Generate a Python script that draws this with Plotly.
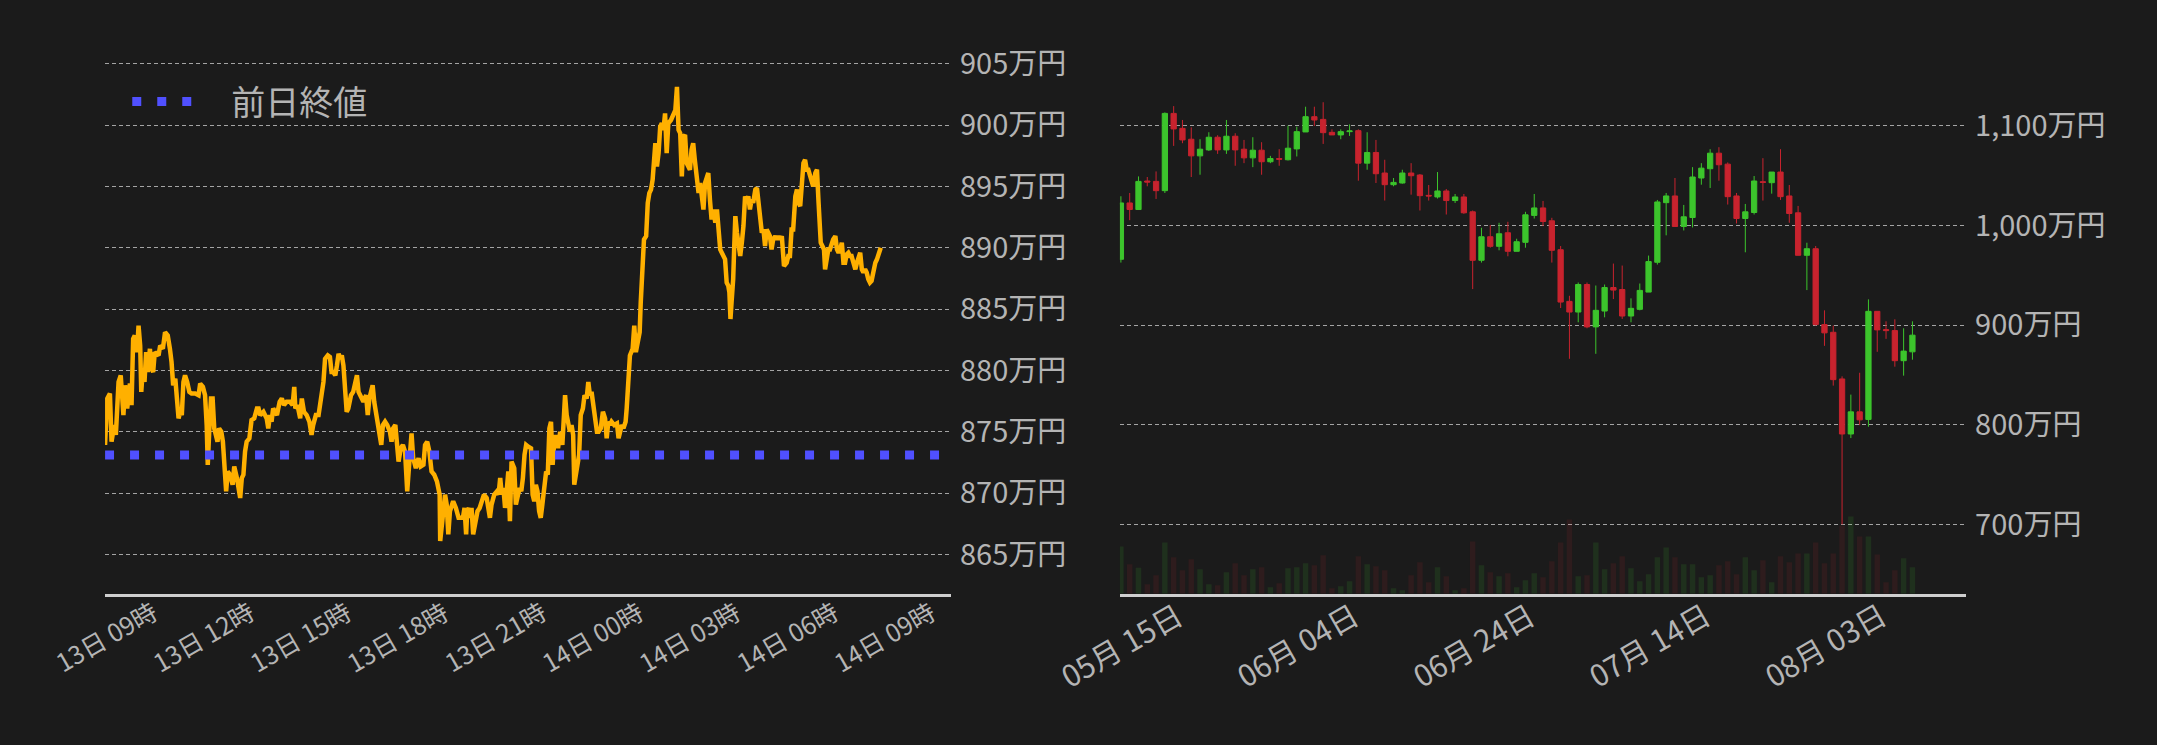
import pandas as pd
import plotly.graph_objects as go

# --- 24h chart: minutes after 13日 09:00, price in 万円 ---
elapsed_min = [
    0, 4, 9, 12, 17, 20, 25, 29, 34, 37, 41, 46, 49, 52, 55, 59, 62, 65, 67, 70,
    73, 76, 79, 83, 86, 89, 92, 99, 102, 107, 111, 116, 120, 123, 126, 130, 133, 136, 139, 142,
    145, 148, 152, 156, 160, 167, 173, 176, 181, 185, 188, 190, 193, 196, 199, 202, 205, 208, 211, 215,
    218, 221, 224, 227, 231, 236, 239, 244, 247, 250, 253, 256, 259, 262, 267, 271, 276, 281, 284, 287,
    293, 296, 299, 302, 305, 308, 311, 318, 323, 327, 331, 336, 342, 347, 350, 352, 356, 361, 364, 368,
    373, 378, 382, 385, 390, 395, 398, 401, 404, 407, 412, 416, 419, 422, 426, 429, 432, 435, 438, 441,
    444, 447, 450, 455, 459, 463, 466, 469, 472, 475, 478, 483, 486, 489, 492, 495, 498, 501, 504, 508,
    511, 514, 518, 522, 527, 530, 533, 537, 540, 543, 547, 551, 555, 559, 563, 567, 570, 575, 580, 584,
    589, 592, 596, 600, 604, 609, 614, 619, 620, 623, 626, 629, 632, 635, 638, 641, 644, 649, 654, 658,
    662, 665, 668, 670, 673, 675, 678, 681, 685, 689, 693, 697, 701, 706, 709, 712, 715, 720, 725, 728,
    731, 734, 737, 740, 743, 746, 749, 752, 757, 760, 764, 767, 770, 773, 776, 779, 783, 788, 791, 794,
    797, 800, 803, 806, 809, 812, 816, 819, 822, 825, 828, 831, 834, 838, 842, 846, 849, 851, 854, 857,
    860, 863, 866, 868, 871, 874, 877, 880, 884, 887, 891, 894, 897, 900, 903, 907, 910, 913, 917, 921,
    925, 928, 931, 934, 937, 942, 947, 950, 953, 956, 959, 963, 965, 968, 971, 976, 979, 982, 985, 989,
    991, 994, 997, 1001, 1004, 1007, 1010, 1013, 1016, 1018, 1021, 1024, 1027, 1030, 1033, 1036, 1039, 1042, 1047, 1050,
    1055, 1058, 1061, 1064, 1067, 1070, 1073, 1076, 1082, 1085, 1088, 1091, 1095, 1098, 1101, 1104, 1107, 1110, 1113, 1116,
    1119, 1122, 1125, 1129, 1132, 1135, 1138, 1141, 1144, 1147, 1150, 1153, 1155, 1157, 1159, 1162, 1164, 1166, 1169, 1172,
    1175, 1178, 1181, 1184, 1187, 1190, 1193, 1196, 1199, 1203, 1206, 1209, 1212, 1215, 1218, 1221, 1224, 1227, 1230, 1233,
    1236, 1240, 1243, 1246, 1249, 1252, 1254, 1256, 1261, 1264, 1267, 1270, 1273, 1277, 1280, 1283, 1286, 1289, 1292, 1295,
    1298, 1301, 1304, 1307, 1310, 1314, 1317, 1320, 1322, 1324, 1327, 1330, 1332, 1335, 1338, 1341, 1344, 1347, 1351, 1354,
    1357, 1360, 1363, 1366, 1369, 1372, 1375, 1378, 1381, 1384, 1388, 1391, 1394, 1397, 1400, 1403, 1406, 1409, 1412, 1415,
    1418, 1421, 1425, 1428, 1431, 1435,
]
price = [
    873.94, 877.72, 878.13, 874.21, 875.56, 874.75, 879.07, 879.61, 876.37, 878.80, 876.91, 878.94, 877.18, 882.58, 882.85, 881.50, 883.66, 882.04, 878.26, 880.15,
    879.07, 881.50, 879.88, 881.77, 880.15, 879.88, 881.50, 881.23, 882.04, 881.77, 883.12, 882.85, 881.77, 880.69, 878.80, 879.34, 877.72, 876.10, 876.64, 876.37,
    879.07, 879.61, 879.07, 878.26, 878.13, 878.13, 877.99, 878.94, 878.67, 877.99, 875.56, 872.32, 875.29, 877.72, 877.72, 875.29, 874.75, 874.21, 875.29, 875.02,
    874.21, 872.59, 870.16, 871.78, 871.51, 870.70, 872.18, 871.24, 870.43, 869.62, 871.24, 871.51, 873.40, 874.21, 874.48, 875.96, 876.10, 876.91, 876.91, 876.37,
    876.64, 876.37, 876.10, 875.29, 876.37, 875.83, 876.91, 876.37, 877.45, 877.72, 877.18, 877.45, 877.45, 877.18, 878.67, 876.91, 877.18, 876.10, 877.72, 876.64,
    876.37, 875.83, 874.75, 875.56, 876.37, 876.37, 877.45, 877.99, 879.07, 880.96, 881.23, 881.10, 879.88, 879.88, 879.61, 880.42, 881.37, 880.96, 881.23, 880.42,
    877.99, 876.64, 876.91, 877.99, 878.26, 879.07, 879.61, 878.26, 877.99, 877.72, 877.45, 877.99, 876.37, 877.72, 878.26, 878.80, 877.45, 876.64, 875.29, 874.48,
    873.94, 875.56, 875.83, 875.56, 875.02, 874.21, 875.29, 875.56, 874.21, 872.59, 873.67, 873.94, 873.40, 870.16, 872.59, 874.88, 872.86, 872.05, 872.86, 872.18,
    872.32, 873.94, 874.21, 873.40, 871.78, 871.51, 870.97, 869.89, 866.11, 867.19, 868.81, 869.89, 869.08, 866.65, 868.54, 869.08, 869.35, 868.81, 868.00, 868.00,
    868.00, 868.81, 866.65, 868.54, 868.81, 868.00, 868.81, 866.65, 867.73, 868.54, 868.81, 869.35, 869.89, 869.62, 868.81, 868.00, 869.08, 869.89, 870.16, 869.89,
    871.24, 869.89, 870.43, 868.81, 870.16, 871.78, 867.73, 872.59, 872.05, 869.08, 869.89, 870.43, 870.16, 871.24, 873.13, 873.94, 873.80, 873.67, 869.89, 869.35,
    870.70, 870.16, 868.54, 868.00, 869.08, 870.70, 871.78, 871.51, 875.29, 875.83, 872.32, 874.21, 874.75, 873.67, 875.02, 873.94, 876.64, 877.99, 876.37, 875.56,
    875.02, 875.56, 874.75, 870.70, 871.51, 872.59, 873.13, 876.37, 876.91, 877.99, 877.72, 879.07, 877.99, 878.26, 877.18, 876.10, 875.02, 875.02, 875.29, 876.64,
    876.10, 874.48, 875.83, 875.56, 875.83, 875.56, 875.69, 874.48, 875.29, 875.56, 875.29, 875.83, 876.91, 878.53, 881.23, 881.77, 883.66, 881.50, 882.04, 883.12,
    885.55, 887.71, 890.68, 890.95, 893.66, 894.47, 894.74, 895.55, 897.17, 898.52, 896.63, 897.71, 899.87, 900.14, 899.60, 900.95, 897.71, 900.14, 900.41, 900.68,
    901.22, 903.11, 899.60, 899.33, 895.82, 899.06, 899.19, 896.90, 896.36, 897.98, 898.52, 897.17, 895.01, 894.47, 895.28, 894.20, 893.12, 895.28, 895.82, 896.09,
    893.93, 892.31, 893.12, 892.04, 893.12, 891.77, 889.87, 889.60, 889.33, 889.06, 887.17, 886.90, 886.36, 884.20, 885.55, 887.44, 890.14, 892.58, 891.22, 889.87,
    889.33, 890.41, 891.77, 894.20, 893.66, 894.20, 893.12, 893.93, 893.66, 894.74, 894.87, 893.66, 892.31, 891.22, 891.50, 890.14, 891.50, 891.22, 890.95, 889.87,
    890.68, 890.95, 890.68, 890.95, 890.68, 890.95, 888.79, 888.52, 888.79, 889.33, 889.33, 891.50, 891.50, 894.20, 894.74, 893.66, 893.39, 895.28, 896.90, 897.17,
    896.36, 896.36, 895.82, 895.28, 895.01, 896.09, 896.36, 893.66, 891.77, 890.41, 890.14, 889.87, 888.25, 889.06, 889.87, 889.87, 890.41, 890.68, 890.95, 889.87,
    889.60, 889.87, 890.41, 888.79, 888.79, 889.47, 889.60, 889.33, 889.33, 888.79, 888.25, 888.79, 889.33, 889.60, 888.25, 887.98, 888.25, 887.98, 887.44, 887.17,
    887.31, 887.98, 888.79, 889.06, 889.60, 890.01,
]
prev_close = 873.13

intraday_ticks = ["2024-08-13 09:00", "2024-08-13 12:00", "2024-08-13 15:00", "2024-08-13 18:00",
                  "2024-08-13 21:00", "2024-08-14 00:00", "2024-08-14 03:00", "2024-08-14 06:00",
                  "2024-08-14 09:00"]
intraday_labels = ["13日 09時", "13日 12時", "13日 15時", "13日 18時", "13日 21時",
                   "14日 00時", "14日 03時", "14日 06時", "14日 09時"]

# --- daily candles from 05月15日, 万円 ---
first_day = "2024-05-15"
opens = [
    966.0, 1022.5, 1015.9, 1044.5, 1044.1, 1034.8, 1112.3, 1097.3, 1086.4, 1069.7,
    1075.7, 1088.4, 1075.7, 1089.4, 1076.4, 1067.7, 1075.4, 1063.8, 1067.0, 1065.8,
    1076.7, 1093.7, 1109.0, 1106.3, 1093.3, 1090.7, 1094.0, 1095.0, 1062.4, 1073.1,
    1052.5, 1040.8, 1042.5, 1052.5, 1050.5, 1030.1, 1028.5, 1034.5, 1024.9, 1028.5,
    1013.6, 965.0, 988.6, 979.0, 992.6, 974.0, 983.0, 1010.0, 1017.5, 1004.6,
    975.6, 923.8, 913.1, 940.7, 898.2, 914.1, 937.7, 935.7, 909.1, 915.8,
    933.1, 963.0, 1022.8, 1029.5, 998.9, 1007.9, 1047.5, 1056.8, 1072.4, 1061.4,
    1029.5, 1006.9, 1012.9, 1043.8, 1042.8, 1053.5, 1029.5, 1012.6, 970.0, 976.6,
    900.5, 892.8, 846.0, 790.8, 813.0, 805.4, 913.8, 895.5, 894.5, 864.3, 873.2,
]
highs = [
    1029.2, 1032.5, 1049.1, 1048.5, 1054.1, 1113.3, 1119.6, 1105.7, 1098.3, 1086.4,
    1093.4, 1090.4, 1105.7, 1092.4, 1085.7, 1088.4, 1083.4, 1069.7, 1076.4, 1100.0,
    1099.0, 1119.0, 1119.0, 1123.5, 1096.3, 1096.3, 1101.3, 1096.3, 1093.4, 1085.7,
    1065.8, 1047.5, 1055.8, 1062.4, 1051.5, 1040.5, 1053.5, 1036.5, 1031.5, 1031.5,
    1014.9, 997.6, 1000.3, 1002.6, 1003.6, 986.6, 1013.6, 1031.5, 1024.5, 1007.6,
    979.3, 929.4, 942.7, 942.7, 939.7, 940.7, 961.7, 959.7, 926.8, 941.7,
    969.7, 1025.5, 1032.5, 1047.5, 1020.5, 1058.4, 1062.4, 1076.4, 1078.4, 1063.1,
    1032.5, 1021.5, 1049.5, 1067.4, 1053.5, 1076.4, 1040.5, 1019.5, 982.6, 979.3,
    914.8, 899.5, 848.6, 830.3, 852.2, 925.8, 913.8, 903.8, 905.8, 896.8, 903.8,
]
lows = [
    962.7, 1005.2, 1015.9, 1039.2, 1026.5, 1032.5, 1079.7, 1082.4, 1048.5, 1050.8,
    1074.7, 1071.7, 1071.7, 1059.8, 1062.4, 1058.4, 1050.8, 1062.4, 1059.8, 1065.1,
    1069.1, 1093.7, 1099.7, 1081.7, 1090.7, 1086.4, 1089.7, 1044.8, 1055.8, 1042.5,
    1024.9, 1039.2, 1041.8, 1030.8, 1014.9, 1024.9, 1026.9, 1010.9, 1022.5, 1011.6,
    936.1, 962.7, 977.6, 975.0, 969.0, 974.0, 977.6, 1006.9, 999.3, 962.7,
    917.1, 866.2, 902.8, 896.8, 871.2, 907.8, 926.1, 906.2, 902.8, 914.8,
    933.1, 960.7, 990.0, 998.9, 994.9, 997.9, 1040.8, 1037.5, 1044.8, 1020.9,
    1001.9, 973.0, 1010.9, 1024.9, 1031.8, 1025.5, 1002.6, 970.0, 935.1, 899.5,
    879.2, 839.3, 700.0, 786.7, 799.7, 798.1, 873.2, 886.2, 858.3, 849.3, 865.3,
]
closes = [
    1022.5, 1015.9, 1044.1, 1043.5, 1034.8, 1112.3, 1096.7, 1085.7, 1069.7, 1076.4,
    1088.4, 1075.7, 1089.4, 1075.7, 1067.7, 1075.4, 1063.8, 1067.1, 1066.3, 1077.4,
    1094.0, 1109.0, 1105.7, 1093.0, 1090.7, 1094.0, 1094.7, 1062.4, 1073.1, 1051.8,
    1040.8, 1043.1, 1052.5, 1049.8, 1029.8, 1029.5, 1034.5, 1024.9, 1028.5, 1012.6,
    965.0, 988.6, 979.0, 991.6, 974.0, 983.6, 1010.6, 1017.5, 1003.9, 975.0,
    923.1, 913.1, 940.7, 898.2, 914.8, 937.7, 935.1, 909.1, 916.8, 934.8,
    963.7, 1023.5, 1029.5, 998.9, 1008.6, 1048.5, 1057.4, 1072.4, 1060.8, 1028.8,
    1006.9, 1013.6, 1044.5, 1043.1, 1053.5, 1028.8, 1011.9, 970.0, 976.6, 900.5,
    892.2, 845.3, 790.8, 813.0, 805.0, 913.8, 895.2, 894.5, 864.3, 873.9, 889.9,
]
volumes = [
    1430, 890, 790, 290, 560, 1550, 1100, 710, 1040, 740,
    290, 260, 650, 920, 560, 740, 800, 200, 320, 770,
    800, 920, 860, 1160, 170, 230, 380, 1130, 890, 830,
    710, 170, 110, 560, 950, 350, 800, 530, 110, 170,
    1580, 860, 650, 530, 620, 200, 410, 620, 500, 980,
    1550, 2240, 530, 560, 1550, 740, 920, 1130, 770, 380,
    590, 1100, 1400, 1100, 890, 890, 500, 560, 860, 980,
    590, 1100, 710, 1010, 350, 1130, 950, 1220, 1220, 1550,
    920, 1220, 2050, 2330, 1730, 1730, 1190, 350, 710, 1070, 800,
]

daily_ticks = ["2024-05-15", "2024-06-04", "2024-06-24", "2024-07-14", "2024-08-03"]
daily_labels = ["05月 15日", "06月 04日", "06月 24日", "07月 14日", "08月 03日"]

BG = "#1b1b1b"
TEXT = "#b4b4b4"
GRID = "#a4a4a4"
UP = "#3cc42c"
DOWN = "#c8232e"

start = pd.Timestamp("2024-08-13 09:00")
times = [start + pd.Timedelta(minutes=m) for m in elapsed_min]
intraday_range = [start, pd.Timestamp("2024-08-14 11:05")]
days = pd.date_range(first_day, periods=len(opens), freq="D")
daily_range = [pd.Timestamp("2024-05-14 21:20"), pd.Timestamp("2024-08-19 02:30")]

vol_colors = ["rgba(60,196,44,0.13)" if c >= o else "rgba(200,35,46,0.11)"
              for o, c in zip(opens, closes)]

fig = go.Figure()

fig.add_trace(go.Scatter(
    x=times, y=price, mode="lines",
    line=dict(color="#ffb000", width=4.5),
    showlegend=False, hoverinfo="skip", xaxis="x", yaxis="y",
))
fig.add_trace(go.Scatter(
    x=intraday_range, y=[prev_close, prev_close], mode="lines", name="\u2003前日終値",
    line=dict(color="#5050ff", width=9, dash="9px,16px"),
    xaxis="x", yaxis="y",
))

fig.add_trace(go.Bar(
    x=days, y=volumes, marker=dict(color=vol_colors, line=dict(width=0)),
    showlegend=False, hoverinfo="skip", xaxis="x2", yaxis="y2",
))
fig.add_trace(go.Candlestick(
    x=days, open=opens, high=highs, low=lows, close=closes,
    increasing=dict(line=dict(color=UP, width=1), fillcolor=UP),
    decreasing=dict(line=dict(color=DOWN, width=1), fillcolor=DOWN),
    showlegend=False, xaxis="x2", yaxis="y3",
))

y_dom = [0.204, 0.9463]
price_axis = dict(
    side="right", showgrid=True, gridcolor=GRID, gridwidth=1, griddash="4px,3px",
    zeroline=False, showline=False, ticks="", ticklabelstandoff=8,
    ticksuffix="万円", tickfont=dict(size=29, color=TEXT),
)
time_axis = dict(
    showgrid=False, zeroline=False, showticklabels=False, ticks="",
    showline=True, linecolor="#cfcfcf", linewidth=3,
)

fig.update_layout(
    width=2157, height=745,
    margin=dict(l=0, r=0, t=0, b=0),
    paper_bgcolor=BG, plot_bgcolor=BG,
    font=dict(family="Noto Sans CJK JP", color=TEXT),
    bargap=0.38, boxgap=0.25, boxgroupgap=0.2,
    xaxis=dict(time_axis, domain=[0.0487, 0.4409], range=intraday_range, anchor="y"),
    yaxis=dict(price_axis, domain=y_dom, range=[861.81, 906.62], tick0=865, dtick=5, anchor="x"),
    xaxis2=dict(time_axis, domain=[0.5192, 0.9115], range=daily_range, anchor="y2",
                rangeslider=dict(visible=False)),
    yaxis2=dict(domain=y_dom, range=[0, 16590], visible=False, anchor="x2"),
    yaxis3=dict(price_axis, range=[630.5, 1182.1], tick0=700, dtick=100, tickformat=",d",
                overlaying="y2", anchor="x2"),
    legend=dict(x=0.059, y=0.907, xanchor="left", yanchor="top", bgcolor="rgba(0,0,0,0)",
                font=dict(size=34, color=TEXT), itemwidth=60),
    hovermode=False,
)

for tick, label in zip(intraday_ticks, intraday_labels):
    fig.add_annotation(x=tick, xref="x", y=0.1477, yref="paper", text=label,
                       textangle=-30, showarrow=False, xanchor="center", yanchor="middle",
                       font=dict(size=25, color=TEXT))
for tick, label in zip(daily_ticks, daily_labels):
    fig.add_annotation(x=tick, xref="x2", y=0.1369, yref="paper", text=label,
                       textangle=-30, showarrow=False, xanchor="center", yanchor="middle",
                       font=dict(size=30, color=TEXT))

fig.write_html("out.html", config={"displayModeBar": False},
               post_script="document.body.style.margin='0';")
